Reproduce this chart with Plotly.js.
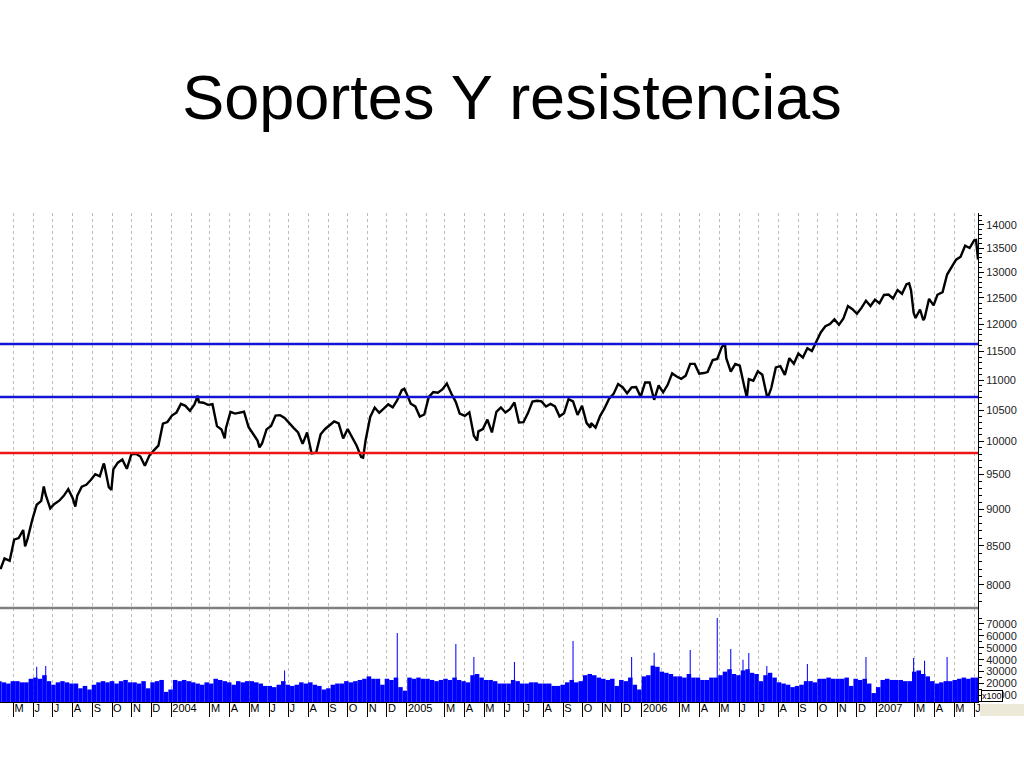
<!DOCTYPE html>
<html><head><meta charset="utf-8">
<script src="https://cdn.plot.ly/plotly-3.0.1.min.js"></script>
<style>html,body{margin:0;padding:0;background:#fff}#chart{width:1024px;height:768px}</style>
</head><body><div id="chart"></div>
<script>
// ---- Price (index close, weekly + notable intraweek points) ----
const dates2003 = ['2003-04-10','2003-04-11','2003-04-17','2003-04-25','2003-05-02','2003-05-09','2003-05-16','2003-05-19','2003-05-23','2003-05-30','2003-06-06','2003-06-13','2003-06-17','2003-06-20','2003-06-27','2003-07-03','2003-07-11','2003-07-18','2003-07-25','2003-08-01','2003-08-05','2003-08-08','2003-08-15','2003-08-22','2003-08-29','2003-09-05','2003-09-12','2003-09-18','2003-09-19','2003-09-26','2003-09-30','2003-10-03','2003-10-10','2003-10-17','2003-10-24','2003-10-31','2003-11-07','2003-11-14','2003-11-21','2003-11-28','2003-12-05','2003-12-12','2003-12-19','2003-12-26'];
const close2003 = [8221,8203,8337,8306,8583,8604,8713,8493,8601,8850,9062,9117,9323,9201,9011,9070,9119,9188,9284,9153,9036,9191,9321,9348,9416,9503,9471,9659,9644,9313,9275,9573,9674,9721,9582,9801,9809,9768,9629,9782,9862,9934,10278,10305];

const dates2004 = ['2004-01-02','2004-01-09','2004-01-16','2004-01-23','2004-01-30','2004-02-06','2004-02-11','2004-02-13','2004-02-20','2004-02-27','2004-03-05','2004-03-12','2004-03-19','2004-03-24','2004-03-26','2004-04-02','2004-04-09','2004-04-16','2004-04-23','2004-04-30','2004-05-07','2004-05-14','2004-05-17','2004-05-21','2004-05-28','2004-06-04','2004-06-11','2004-06-18','2004-06-25','2004-07-02','2004-07-09','2004-07-16','2004-07-23','2004-07-30','2004-08-06','2004-08-13','2004-08-20','2004-08-27','2004-09-03','2004-09-10','2004-09-17','2004-09-24','2004-10-01','2004-10-08','2004-10-15','2004-10-22','2004-10-25','2004-10-29','2004-11-05','2004-11-12','2004-11-19','2004-11-26','2004-12-03','2004-12-10','2004-12-17','2004-12-24','2004-12-28','2004-12-31'];
const close2004 = [10409,10458,10600,10568,10488, 10593,10737,10628,10619,10584, 10595,10240,10186,10048,10212, 10470,10442,10451,10472,10226, 10117,10012,9906,9967,10188, 10243,10410,10416,10371, 10283,10213,10140,9962,10140, 9815,9825,10110,10195, 10260,10314,10284,10047, 10193,10055,9933,9758,9749,10027, 10387,10540,10456,10522, 10592,10543,10661,10828,10854,10783];

const dates2005 = ['2005-01-07','2005-01-14','2005-01-21','2005-01-28','2005-02-04','2005-02-11','2005-02-18','2005-02-25','2005-03-04','2005-03-11','2005-03-18','2005-03-24','2005-04-01','2005-04-08','2005-04-15','2005-04-20','2005-04-22','2005-04-29','2005-05-06','2005-05-13','2005-05-20','2005-05-27','2005-06-03','2005-06-10','2005-06-17','2005-06-24','2005-07-01','2005-07-08','2005-07-15','2005-07-22','2005-07-29','2005-08-05','2005-08-12','2005-08-19','2005-08-26','2005-09-02','2005-09-09','2005-09-16','2005-09-23','2005-09-30','2005-10-07','2005-10-13','2005-10-14','2005-10-21','2005-10-28','2005-11-04','2005-11-11','2005-11-18','2005-11-25','2005-12-02','2005-12-09','2005-12-16','2005-12-23','2005-12-30'];
const close2005 = [10603,10558,10393,10427, 10716,10796,10785,10841, 10941,10774,10630,10442, 10404,10461,10088,10012,10157,10193, 10345,10140,10471,10542, 10460,10512,10623,10297, 10303,10449,10640,10651,10641, 10558,10600,10559,10397, 10447,10679,10641,10420,10569, 10292,10216,10287,10215,10402, 10530,10686,10766,10931, 10878,10778,10875,10883,10718];

const dates2006 = ['2006-01-06','2006-01-13','2006-01-20','2006-01-27','2006-02-03','2006-02-10','2006-02-17','2006-02-24','2006-03-03','2006-03-10','2006-03-17','2006-03-24','2006-03-31','2006-04-07','2006-04-13','2006-04-21','2006-04-28','2006-05-05','2006-05-10','2006-05-12','2006-05-19','2006-05-26','2006-06-02','2006-06-09','2006-06-13','2006-06-16','2006-06-23','2006-06-30','2006-07-07','2006-07-14','2006-07-17','2006-07-21','2006-07-28','2006-08-04','2006-08-11','2006-08-18','2006-08-25','2006-09-01','2006-09-08','2006-09-15','2006-09-22','2006-09-29','2006-10-06','2006-10-13','2006-10-20','2006-10-27','2006-11-03','2006-11-10','2006-11-17','2006-11-24','2006-12-01','2006-12-08','2006-12-15','2006-12-22','2006-12-29'];
const close2006 = [10959,10960,10668,10908, 10793,10919,11115,11062, 11022,11076,11280,11280,11109, 11121,11138,11347,11367, 11577,11642,11380,11144,11278, 11248,10891,10706,11015,10989,11150, 11091,10739,10747,10869,11219, 11240,11089,11381,11284, 11464,11392,11560,11509,11679, 11850,11960,12002,12090, 11986,12108,12342,12280, 12194,12307,12445,12343,12463];

const dates2007 = ['2007-01-05','2007-01-12','2007-01-19','2007-01-26','2007-02-02','2007-02-09','2007-02-16','2007-02-20','2007-02-23','2007-02-27','2007-03-02','2007-03-09','2007-03-14','2007-03-16','2007-03-23','2007-03-30','2007-04-05','2007-04-13','2007-04-20','2007-04-27','2007-05-04','2007-05-11','2007-05-18','2007-05-25','2007-06-01','2007-06-04','2007-06-06','2007-06-07'];
const close2007 = [12398,12556,12565,12487, 12653,12580,12768,12786,12647,12216, 12114,12276,12075,12110,12481,12354, 12560,12612,12962,13120, 13265,13327,13556,13507, 13668,13676,13462,13266];

// ---- Volume (x100), weekly, starting week of 2003-04-09 ----
const vol2003 = [22000,21000,20000,22000, 22000,21000,21000,24000, 25000,24000,27000,22000, 19000,21000,22000,21000,20000, 20000,16000,18000,15000, 19000,21000,22000,21000, 22000,20000,22000,23000,21000, 21000,20000,22000,16000, 21000,22000,23000,13000,15000];
const vol2004 = [23000,22000,23000,22000, 21000,20000,19000,21000, 20000,24000,23000,22000,21000, 19000,22000,21000,22000, 22000,21000,20000,18000, 18000,17000,19000,22000,19000, 18000,19000,21000,20000, 21000,19000,18000,15000, 16000,19000,20000,20000,22000, 21000,22000,23000,24000, 26000,24000,24000,19000, 24000,23000,25000,17000,14000];
const vol2005 = [25000,24000,25000,24000, 24000,23000,22000,23000, 24000,23000,25000,23000,22000, 21000,27000,28000,25000, 23000,23000,22000,20000, 20000,20000,23000,22000,20000, 20000,21000,21000,20000, 20000,20000,18000,18000,19000, 21000,23000,21000,22000, 27000,28000,27000,25000, 24000,23000,24000,18000,23000, 22000,25000,19000,15000];
const vol2006 = [26000,27000,35000,34000, 30000,29000,28000,26000, 26000,25000,28000,25000,25000, 23000,23000,25000,25000, 27000,30000,32000,28000,27000, 31000,32000,29000,28000, 22000,27000,29000,25000, 21000,20000,19000,17000,18000, 19000,22000,22000,21000, 24000,24000,25000,24000, 24000,24000,25000,18000,24000, 23000,24000,20000,12000];
const vol2007 = [17000,23000,24000,23000,23000, 23000,22000,22000,30000, 31000,28000,26000,22000, 20000,21000,22000,22000, 23000,24000,25000,24000,25000, 25000];
const volStart = '2003-04-09';

// single-session volume spikes (x100)
const spikeDates = ['2003-06-06','2003-06-20','2004-06-25','2004-12-17','2005-03-18','2005-04-15','2005-06-17','2005-09-16','2005-12-16','2006-01-20','2006-03-17','2006-04-28','2006-05-19','2006-06-07','2006-06-16','2006-07-14','2006-09-15','2006-12-15','2007-02-27','2007-03-16','2007-04-20'];
const spikeVols  = [34000,34700,31000,62400,53200,42300,38000,55700,42300,45900,48200,75000,49000,40000,45600,34700,36400,42300,41400,39200,42300];

// ---- Support / resistance levels ----
const resistanceLevels = [11635, 10715];
const supportLevels = [9820];

// ---- Axes ticks ----
const priceTicks = [8000,8500,9000,9500,10000,10500,11000,11500,12000,12500,13000,13500,14000];
const volTicks = [10000,20000,30000,40000,50000,60000,70000];
const monthStarts = ['2003-05-01','2003-06-01','2003-07-01','2003-08-01','2003-09-01','2003-10-01','2003-11-01','2003-12-01',
 '2004-01-01','2004-02-01','2004-03-01','2004-04-01','2004-05-01','2004-06-01','2004-07-01','2004-08-01','2004-09-01','2004-10-01','2004-11-01','2004-12-01',
 '2005-01-01','2005-02-01','2005-03-01','2005-04-01','2005-05-01','2005-06-01','2005-07-01','2005-08-01','2005-09-01','2005-10-01','2005-11-01','2005-12-01',
 '2006-01-01','2006-02-01','2006-03-01','2006-04-01','2006-05-01','2006-06-01','2006-07-01','2006-08-01','2006-09-01','2006-10-01','2006-11-01','2006-12-01',
 '2007-01-01','2007-02-01','2007-03-01','2007-04-01','2007-05-01','2007-06-01'];
const monthLabels = ['M','J','J','A','S','O','N','D',
 '2004','F','M','A','M','J','J','A','S','O','N','D',
 '2005','F','M','A','M','J','J','A','S','O','N','D',
 '2006','F','M','A','M','J','J','A','S','O','N','D',
 '2007','F','M','A','M','J'];

// ---- Build ----
const priceDates = [].concat(dates2003, dates2004, dates2005, dates2006, dates2007);
const priceClose = [].concat(close2003, close2004, close2005, close2006, close2007);
const volValues = [].concat(vol2003, vol2004, vol2005, vol2006, vol2007);
const DAY = 86400000;
const volDates = volValues.map((v, i) => new Date(Date.parse(volStart + 'T00:00:00Z') + i * 7 * DAY).toISOString().slice(0, 10));

const labeledStarts = monthStarts.filter((d, i) => monthLabels[i] !== 'F');
const labeledText = monthLabels.filter(l => l !== 'F');
const febStarts = monthStarts.filter((d, i) => monthLabels[i] === 'F');

const priceMinor = [];
for (let v = 7800; v <= 14200; v += 100) if (v % 500 !== 0) priceMinor.push(v);
const volMinor = [];
for (let v = 5000; v <= 80000; v += 5000) if (v % 10000 !== 0) volMinor.push(v);

const FONT = 'Liberation Sans, Arial, sans-serif';
const GRID = '#bcbcbc';
const xRange = ['2003-04-10', '2007-06-07'];
const split = (702 - 608) / 489;

const traces = [
  {type: 'bar', x: volDates, y: volValues, xaxis: 'x2', yaxis: 'y2', width: 7 * DAY,
   marker: {color: '#0000ff', line: {width: 0}}, hoverinfo: 'skip'},
  {type: 'bar', x: spikeDates, y: spikeVols, xaxis: 'x2', yaxis: 'y2', width: 1.6 * DAY,
   marker: {color: '#0000ff', line: {width: 0}}, hoverinfo: 'skip'},
  {type: 'scatter', mode: 'lines', x: priceDates, y: priceClose, xaxis: 'x', yaxis: 'y',
   line: {color: '#000000', width: 2.4}, hoverinfo: 'skip'}
];

const shapes = [];
resistanceLevels.forEach(v => shapes.push({type: 'line', xref: 'paper', x0: 0, x1: 1, yref: 'y', y0: v, y1: v,
  line: {color: '#1414d6', width: 2.5}}));
supportLevels.forEach(v => shapes.push({type: 'line', xref: 'paper', x0: 0, x1: 1, yref: 'y', y0: v, y1: v,
  line: {color: '#ee1515', width: 2.5}}));
shapes.push({type: 'line', xref: 'paper', x0: 0, x1: 1, yref: 'paper', y0: split, y1: split,
  line: {color: '#808080', width: 2.5}, layer: 'above'});
shapes.push({type: 'rect', xref: 'paper', x0: 980 / 978, x1: 1024 / 978, yref: 'paper', y0: -14 / 489, y1: -2 / 489,
  fillcolor: '#ece9d8', line: {width: 0}, layer: 'above'});

const layout = {
  width: 1024, height: 768,
  margin: {l: 0, r: 46, t: 213, b: 66, pad: 0},
  paper_bgcolor: '#ffffff', plot_bgcolor: '#ffffff',
  showlegend: false, barmode: 'overlay',
  title: {text: 'Soportes Y resistencias', font: {family: FONT, size: 63, color: '#000'},
    x: 0.5, xref: 'container', xanchor: 'center', y: 1 - 97 / 768, yref: 'container', yanchor: 'middle'},
  xaxis: {type: 'date', range: xRange, anchor: 'y', domain: [0, 1],
    tickmode: 'array', tickvals: monthStarts, showticklabels: false, ticks: '',
    showgrid: true, gridcolor: GRID, griddash: '3px,3px', gridwidth: 1, zeroline: false, showline: false},
  xaxis2: {type: 'date', range: xRange, anchor: 'y2', domain: [0, 1],
    tickmode: 'array', tickvals: labeledStarts, ticktext: labeledText, tickangle: 0,
    ticks: 'outside', ticklen: 14, tickwidth: 1, tickcolor: '#000',
    ticklabelposition: 'outside right', ticklabelstandoff: -4,
    tickfont: {family: FONT, size: 11, color: '#000'},
    showgrid: true, gridcolor: GRID, griddash: '3px,3px', gridwidth: 1,
    minor: {tickmode: 'array', tickvals: febStarts, showgrid: true, gridcolor: GRID, griddash: '3px,3px', ticks: ''},
    showline: true, linecolor: '#000', linewidth: 1, zeroline: false},
  yaxis: {type: 'log', domain: [split, 1], anchor: 'x', side: 'right',
    range: [3.8875, 4.1542],
    tickmode: 'array', tickvals: priceTicks, ticktext: priceTicks.map(String),
    ticks: 'outside', ticklen: 5, tickwidth: 1, tickcolor: '#000',
    tickfont: {family: FONT, size: 11, color: '#222'},
    minor: {tickmode: 'array', tickvals: priceMinor, ticks: 'outside', ticklen: 3, tickcolor: '#000', showgrid: false},
    showline: true, linecolor: '#000', linewidth: 1, showgrid: false, zeroline: false},
  yaxis2: {domain: [0, split], anchor: 'x2', side: 'right', range: [4500, 83400],
    tickmode: 'array', tickvals: volTicks, ticktext: volTicks.map(String),
    ticks: 'outside', ticklen: 5, tickwidth: 1, tickcolor: '#000',
    tickfont: {family: FONT, size: 11, color: '#222'},
    minor: {tickmode: 'array', tickvals: volMinor, ticks: 'outside', ticklen: 3, tickcolor: '#000', showgrid: false},
    showline: true, linecolor: '#000', linewidth: 1, showgrid: false, zeroline: false},
  shapes: shapes,
  annotations: [{text: 'x100', xref: 'paper', yref: 'paper', x: 981 / 978, y: 6 / 489,
    xanchor: 'left', yanchor: 'middle', showarrow: false,
    font: {family: FONT, size: 9, color: '#000'}, bgcolor: '#ffffff',
    bordercolor: '#000', borderwidth: 1, borderpad: 0}]
};

Plotly.newPlot('chart', traces, layout, {displayModeBar: false, staticPlot: true});
</script></body></html>
